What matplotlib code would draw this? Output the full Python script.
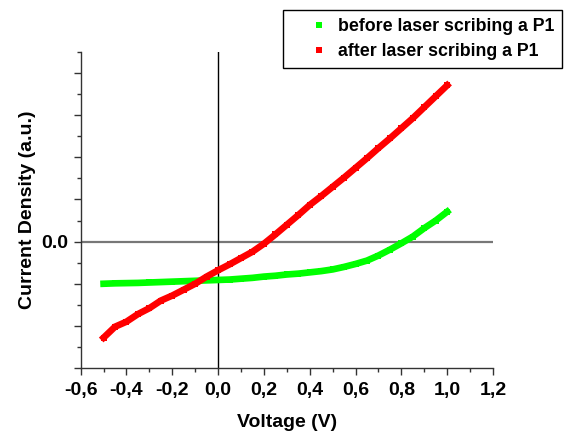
import matplotlib
matplotlib.use("Agg")
import matplotlib.pyplot as plt
from matplotlib.lines import Line2D
from matplotlib.ticker import MultipleLocator

plt.rcParams['font.family'] = ['Liberation Sans', 'DejaVu Sans']
plt.rcParams['font.weight'] = 'bold'

voltage = [-0.5, -0.45, -0.4, -0.35, -0.3, -0.25, -0.2, -0.15, -0.1, -0.05,
           0.0, 0.05, 0.1, 0.15, 0.2, 0.25, 0.3, 0.35, 0.4, 0.45, 0.5,
           0.55, 0.6, 0.65, 0.7, 0.75, 0.8, 0.85, 0.9, 0.95, 1.0]
before = [-1.00, -0.99, -0.985, -0.98, -0.97, -0.96, -0.95, -0.94, -0.93, -0.92,
          -0.91, -0.90, -0.88, -0.86, -0.83, -0.81, -0.78, -0.76, -0.73, -0.70, -0.66,
          -0.60, -0.53, -0.45, -0.33, -0.19, -0.04, 0.12, 0.32, 0.50, 0.71]
after = [-2.28, -2.02, -1.90, -1.72, -1.58, -1.40, -1.28, -1.14, -1.00, -0.83,
         -0.68, -0.54, -0.39, -0.24, -0.05, 0.17, 0.40, 0.63, 0.87, 1.08, 1.30,
         1.52, 1.75, 1.98, 2.22, 2.45, 2.69, 2.93, 3.19, 3.45, 3.71]
labels = ["before laser scribing a P1", "after laser scribing a P1"]
colors = ["#00FF00", "#FF0000"]
xticks = [-0.6, -0.4, -0.2, 0.0, 0.2, 0.4, 0.6, 0.8, 1.0, 1.2]
xticklabels = ["-0,6", "-0,4", "-0,2", "0,0", "0,2", "0,4", "0,6", "0,8", "1,0", "1,2"]
yticks = [-3, -2, -1, 0, 1, 2, 3, 4]
yticklabels = ["", "", "", "0.0", "", "", "", ""]

fig = plt.figure(figsize=(5.71, 4.32), dpi=100)
ax = fig.add_axes([0.1413, 0.1481, 0.7221, 0.7315])

ax.axhline(0, color="#777777", lw=1.6, zorder=1)
ax.axvline(0, color="black", lw=1.0, zorder=1)

for y, c in zip([before, after], colors):
    ax.plot(voltage, y, color=c, lw=4.8, marker="s", markersize=5,
            markeredgewidth=0, solid_joinstyle="miter", zorder=3)

ax.set_xlim(-0.6, 1.2)
ax.set_ylim(-3, 4.5)
ax.set_xticks(xticks)
ax.set_xticklabels(xticklabels, fontsize=14, fontweight="bold")
ax.set_yticks(yticks)
ax.set_yticklabels(yticklabels, fontsize=14, fontweight="bold")
ax.xaxis.set_minor_locator(MultipleLocator(0.1))
ax.yaxis.set_minor_locator(MultipleLocator(0.5))
ax.tick_params(which="major", direction="out", length=5, width=1.0, color="#333333")
ax.tick_params(which="minor", direction="out", length=3, width=1.0, color="#333333")
ax.tick_params(axis="x", pad=5)
ax.tick_params(axis="y", pad=4)

for s in ["top", "right"]:
    ax.spines[s].set_visible(False)
for s in ["left", "bottom"]:
    ax.spines[s].set_linewidth(1.0)
    ax.spines[s].set_color("#333333")

ax.set_xlabel("Voltage (V)", fontsize=14, fontweight="bold", labelpad=11)
ax.set_ylabel("Current Density (a.u.)", fontsize=14, fontweight="bold", labelpad=4)

handles = [Line2D([], [], ls="none", marker="s", markersize=5, color=c, markeredgewidth=0)
           for c in colors]
leg = fig.legend(handles, labels, loc="upper left", bbox_to_anchor=(283/571, 1 - 10/432),
                 frameon=True, fancybox=False, edgecolor="black", framealpha=1,
                 prop={"size": 12.8, "weight": "bold"}, handlelength=3.1,
                 handletextpad=-0.45, borderpad=0.45, labelspacing=0.45, borderaxespad=0)
leg.get_frame().set_linewidth(1.0)

fig.savefig("out.png", dpi=100)
